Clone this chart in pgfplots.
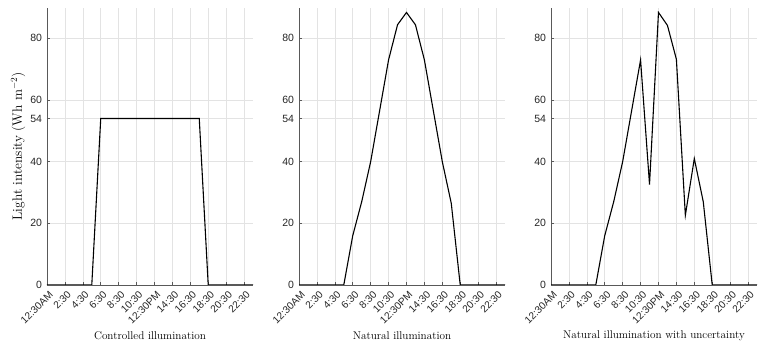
\documentclass[border=0pt]{standalone}
\usepackage{pgfplots}
\pgfplotsset{compat=1.18}
\usepackage{fontspec}
\newfontfamily\helv{Liberation Sans}
\definecolor{axgray}{HTML}{262626}
\definecolor{gridgray}{HTML}{E3E3E3}
\pgfplotsset{
 panel/.style={
  width=206pt, height=277.5pt, scale only axis,
  xmin=0.5, xmax=23.5, ymin=0, ymax=90,
  axis x line*=bottom, axis y line*=left,
  axis line style={black!65, line width=0.8pt},
  xtick={0.5,2.5,4.5,6.5,8.5,10.5,12.5,14.5,16.5,18.5,20.5,22.5},
  xticklabels={12:30AM,2:30,4:30,6:30,8:30,10:30,12:30PM,14:30,16:30,18:30,20:30,22:30},
  ytick={0,20,40,54,60,80},
  yticklabels={0,20,40,54,60,80},
  tick align=inside,
  major tick length=3pt,
  tick style={black!65, line width=0.5pt},
  grid=major,
  major grid style={gridgray, line width=0.6pt},
  x tick label style={font=\helv\fontsize{10.2}{11}\selectfont, text=axgray, xshift=5pt, yshift=-7pt, rotate=45, anchor=east, inner sep=1pt},
  y tick label style={font=\helv\fontsize{10.5}{11}\selectfont, text=axgray, xshift=-1.5pt},
  xlabel style={font=\fontsize{11.2}{13}\selectfont, at={(rel axis cs:0.5,0)}, anchor=center, yshift=-51pt},
 }
}
\begin{document}
\begin{tikzpicture}
\path[use as bounding box] (-47pt,-67pt) rectangle (716pt,285pt);
\begin{axis}[panel, at={(0pt,0pt)}, anchor=south west,
  xlabel={Controlled illumination},
  ylabel={Light intensity (Wh m$^{-2}$)},
  ylabel style={font=\fontsize{13.5}{15}\selectfont, at={(axis description cs:-0.14,0.5)}, anchor=center, rotate=0}]
\addplot[black, line width=1.1pt, mark=none] coordinates {(0.5,0)(1.5,0)(2.5,0)(3.5,0)(4.5,0)(5.5,0)(6.5,54)(7.5,54)(8.5,54)(9.5,54)(10.5,54)(11.5,54)(12.5,54)(13.5,54)(14.5,54)(15.5,54)(16.5,54)(17.5,54)(18.5,0)(19.5,0)(20.5,0)(21.5,0)(22.5,0)(23.5,0)};
\end{axis}
\begin{axis}[panel, at={(252pt,0pt)}, anchor=south west,
  xlabel={Natural illumination}]
\addplot[black, line width=1.1pt, mark=none] coordinates {(0.5,0)(1.5,0)(2.5,0)(3.5,0)(4.5,0)(5.5,0)(6.5,16)(7.5,27)(8.5,40)(9.5,56.5)(10.5,73)(11.5,84.4)(12.5,88.4)(13.5,84.4)(14.5,73)(15.5,56.5)(16.5,40)(17.5,26.5)(18.5,0)(19.5,0)(20.5,0)(21.5,0)(22.5,0)(23.5,0)};
\end{axis}
\begin{axis}[panel, at={(504pt,0pt)}, anchor=south west,
  xlabel={Natural illumination with uncertainty}]
\addplot[black, line width=1.1pt, mark=none] coordinates {(0.5,0)(1.5,0)(2.5,0)(3.5,0)(4.5,0)(5.5,0)(6.5,16)(7.5,27)(8.5,40)(9.5,56.5)(10.5,73)(11.5,32.6)(12.5,88.4)(13.5,84.2)(14.5,73.2)(15.5,22.6)(16.5,41)(17.5,27)(18.5,0)(19.5,0)(20.5,0)(21.5,0)(22.5,0)(23.5,0)};
\end{axis}
\end{tikzpicture}
\end{document}
